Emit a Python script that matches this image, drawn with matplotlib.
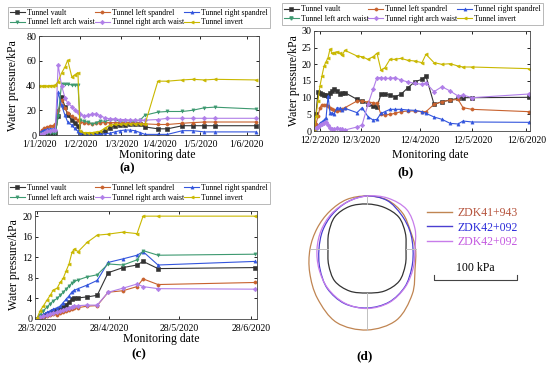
import numpy as np
import matplotlib
matplotlib.use("Agg")
import matplotlib.pyplot as plt
from matplotlib.path import Path
from matplotlib.patches import PathPatch

plt.rcParams["font.family"] = "Liberation Serif"

series_names = ["Tunnel vault", "Tunnel left spandrel", "Tunnel right spandrel",
                "Tunnel left arch waist", "Tunnel right arch waist", "Tunnel invert"]
colors = ["#333333", "#c8622e", "#3355dd", "#3d9970", "#b07ee8", "#c9b800"]
markers = ["s", "o", "^", "v", "D", "<"]

# ---- (a) days from 1/1/2020
days_a = [0, 2, 4, 6, 8, 10, 12, 14, 16.5, 19, 21, 24, 26, 28.5, 30, 33, 36, 39, 42, 45, 48,
          52, 55.5, 59, 63, 66.5, 70, 74, 77.5, 87, 94, 105, 112.5, 121, 128.5, 159]
vault_a = [1, 1, 1, 1, 1, 1, 1.5, 15, 31, 23, 16, 12, 9.5, 7, 2, 1, 1, 1, 1, 2, 3,
           6, 7.5, 8, 8, 8.5, 8.5, 8.5, 6.5, 5, 5, 7.5, 7.5, 7.5, 7.5, 7.5]
lspan_a = [1, 4, 5.5, 6.5, 7, 7.5, 8.5, 20, 28, 22, 18, 15, 13.5, 12, 10.5, 10, 9.5, 9, 9.5, 10, 10,
           10, 10, 10, 10, 10, 9.5, 9.5, 9, 8.5, 8.5, 9.5, 10, 10.5, 10.5, 10.5]
rspan_a = [2, 3, 4, 4.5, 5, 5, 5.5, 34.5, 24, 16, 10.5, 8, 5.5, 3, 1.5, 1, 0.5, 0.5, 0.5, 0.5, 1,
           1.5, 2.5, 3.5, 4, 4, 3.5, 2, 0.5, 0.5, 0.5, 3.5, 3.5, 2.5, 2.5, 2.5]
larch_a = [1, 1, 1.5, 1.5, 2, 2, 2, 15, 41, 41, 41, 40.5, 40.5, 40.5, 12, 11, 10.5, 9, 10, 11.5, 11,
           12, 12.5, 11, 11.5, 11.5, 11, 12, 16, 18.5, 19, 19, 20, 22, 22.5, 21]
rarch_a = [0.5, 1, 2, 3, 3.5, 4, 4, 56.5, 40, 30, 26, 23, 20.5, 18.5, 17, 15.5, 16, 17, 17, 15.5, 14,
           13, 13, 12.5, 12.5, 12, 12, 12, 12, 12.5, 13.5, 13.5, 13.5, 13.5, 13.5, 13.5]
invert_a = [40, 39.5, 40, 39.5, 40, 40, 40.5, 43, 50, 55, 60.5, 47, 48.5, 50.5, 3, 2, 2, 2, 2.5, 3, 5.5,
            8, 8.5, 8.5, 9, 9, 9, 9, 8.5, 43.5, 43.5, 44.5, 45, 44.5, 45, 44.5]
ticks_a = [0, 30, 60, 88, 118, 152]
ticklabels_a = ["1/1/2020", "1/2/2020", "1/3/2020", "1/4/2020", "1/5/2020", "1/6/2020"]

# ---- (b) days from 12/2/2020
days_b = [0, 1.1, 2.2, 3.3, 4.4, 5.6, 6.7, 7.8, 8.9, 10, 11.1, 12.8, 14.4, 15.6, 17.2, 23.9, 26.7, 30,
          32.8, 35, 37.2, 39.4, 42.2, 45, 48.3, 52.2, 56.1, 60, 62.2, 66.7, 71.1, 75.6, 80, 82.8, 87.8, 119.5]
vault_b = [0, 5, 11.7, 11.5, 11, 10.8, 10.7, 10.5, 11.5, 12, 12.5, 12, 11.2, 11.3, 11.5, 9.5, 9, 8,
           7.5, 7.3, 11, 11.2, 10.7, 10.3, 11, 13, 14.8, 15.5, 16.5, 8, 8.8, 9.3, 9.8, 10, 10, 10.1]
lspan_b = [0, 2, 4.5, 7, 7.8, 7.8, 7.7, 7.5, 7, 6.7, 6.3, 6, 6.3, 6.6, 7, 9, 9, 8.7,
           8.5, 8.3, 5, 4.8, 5, 5.3, 5.8, 6, 6, 5.8, 5.8, 8, 8.8, 9.2, 9.5, 7, 6.5, 5.8]
rspan_b = [0, 0.8, 1.5, 2.3, 2.8, 3.3, 4, 10.5, 5.5, 5.4, 5, 7, 6.8, 6.3, 6.8, 5.5, 7, 4.3,
           3.3, 3.5, 5.3, 5.8, 6.5, 6.5, 6.5, 6.3, 6.2, 5.8, 5.3, 4.2, 3.5, 2.3, 2.1, 3, 2.7, 2.6]
larch_b = []
rarch_b = [0, 1, 1.3, 1.8, 2.1, 2.5, 2.8, 1.8, 1, 0.5, 0.5, 0.8, 0.5, 0.5, 0.3, 1.2, 1.8, 8,
           12.5, 16, 16, 15.8, 15.8, 16, 15.3, 14.7, 14.3, 14, 14.4, 11.8, 13.3, 12, 10.5, 10.8, 10, 11.1]
invert_b = [0, 4.5, 9, 13.5, 16.5, 19.5, 20.8, 22, 24.6, 23.3, 23.5, 23.8, 23.3, 22.8, 24.2, 22.5, 22.3, 21.5,
            22.3, 23.3, 18.3, 19, 21.5, 21.5, 21.8, 21.2, 21, 20.5, 23, 20.5, 20, 20.2, 19.5, 19.2, 19.2, 18.7]
ticks_b = [3.3, 26, 59, 88, 118]
ticklabels_b = ["12/2/2020", "12/3/2020", "12/4/2020", "12/5/2020", "12/6/2020"]

# ---- (c) days from 28/3/2020
days_c = [0, 1.3, 2.6, 4.3, 5.6, 6.9, 8.6, 9.9, 11.2, 12.4, 13.7, 15, 16, 17.6, 21.5, 25.8,
          30.5, 36.9, 42.9, 45.5, 51.9, 93.6]
vault_c = [0, 0.3, 0.6, 0.9, 1.2, 1.5, 1.8, 2.0, 2.4, 2.8, 3.3, 3.8, 4.0, 4.1, 4.3, 4.6,
           9.0, 10.0, 10.5, 11.2, 9.8, 10.0]
lspan_c = [0, 0.2, 0.4, 0.6, 0.8, 0.9, 0.8, 1.1, 1.3, 1.6, 1.7, 2.0, 2.1, 2.2, 2.5, 2.6,
           5.2, 5.5, 6.3, 7.8, 6.7, 7.1]
rspan_c = [0, 0.5, 0.9, 1.3, 1.6, 1.9, 2.2, 2.5, 3.2, 3.8, 4.5, 5.3, 5.6, 5.9, 6.6, 7.5,
           11.0, 11.7, 12.4, 13.1, 10.5, 11.2]
larch_c = [0, 0.8, 1.6, 2.3, 3.0, 3.5, 4.0, 4.6, 5.2, 5.8, 6.4, 7.0, 7.3, 7.6, 8.2, 8.6,
           10.7, 10.5, 11.5, 13.3, 12.4, 12.6]
rarch_c = [0, 0.3, 0.5, 0.8, 1.0, 1.2, 1.4, 1.6, 1.8, 2.0, 2.2, 2.4, 2.5, 2.6, 2.7, 2.7,
           5.2, 6.0, 6.8, 6.3, 5.9, 5.8]
invert_c = [0.2, 1.6, 2.5, 3.7, 4.6, 5.6, 6.0, 7.1, 7.9, 9.3, 10.7, 13.0, 13.6, 13.1, 14.9, 16.3,
            16.5, 16.9, 16.6, 20.0, 20.0, 20.0]
ticks_c = [0, 31, 61, 92]
ticklabels_c = ["28/3/2020", "28/4/2020", "28/5/2020", "28/6/2020"]

# ---- (d) pressure envelopes around the lining, radius at 16 angles (drawing units)
angles_d = np.arange(0, 360, 22.5)
lining_r = [39, 41.5, 45, 45, 45, 46, 45.5, 41.5, 39, 41.5, 45.5, 45.5, 44, 45.5, 45.5, 41.5]
zdk41_943_r = [48.5, 47, 50.5, 53, 53, 53.5, 53, 54, 57, 62, 70, 79.5, 81, 77, 64, 52]
zdk42_092a_r = [46, 46.5, 48.5, 52.5, 53, 51, 49, 48, 48, 51, 56, 59, 59, 57.5, 53.5, 48.5]
zdk42_092b_r = [48, 52, 56, 55, 53, 51, 50, 49.5, 50, 52, 55.5, 58.5, 59.5, 58, 54, 50]
labels_d = ["ZDK41+943", "ZDK42+092", "ZDK42+092"]
line_colors_d = ["#c08552", "#4b3fd1", "#c77dea"]
text_colors_d = ["#b5533c", "#2b2bd9", "#c45ae0"]
scale_kpa = 100
scale_len = 83  # drawing units for 100 kPa

fig = plt.figure(figsize=(5.5, 3.66), dpi=100)
W, H = 550, 366


def px_axes(x0, y0, x1, y1):
    return fig.add_axes([x0 / W, 1 - y1 / H, (x1 - x0) / W, (y1 - y0) / H])


def line_panel(ax, x, ys, xticks, xticklabels, xlim, ylim, yticks, legbox):
    for y, c, m, name in zip(ys, colors, markers, series_names):
        if len(y):
            ax.plot(x, y, color=c, marker=m, ms=2.3, lw=0.8, mew=0.4, label=name)
        else:
            ax.plot([], [], color=c, marker=m, ms=2.3, lw=0.8, label=name)
    ax.set_xlim(*xlim)
    ax.set_ylim(*ylim)
    ax.set_yticks(yticks)
    ax.set_xticks(xticks)
    ax.set_xticklabels(xticklabels)
    ax.tick_params(direction="in", top=True, right=True, length=2.5, width=0.6,
                   labelsize=7.2, pad=2)
    ax.tick_params(axis="x", pad=3.5, labelsize=7)
    for s in ax.spines.values():
        s.set_linewidth(0.6)
        s.set_color("#444444")
    ax.set_xlabel("Monitoring date", fontsize=8.5)
    ax.set_ylabel("Water pressure/kPa", fontsize=8.5)
    h, l = ax.get_legend_handles_labels()
    order = [0, 3, 1, 4, 2, 5]
    x0, y0, x1, y1 = legbox
    leg = ax.legend([h[i] for i in order], [l[i] for i in order], ncol=3, mode="expand",
                    loc="center", bbox_to_anchor=(x0 / W, 1 - y1 / H, (x1 - x0) / W, (y1 - y0) / H),
                    bbox_transform=fig.transFigure, fontsize=5.6, frameon=True, fancybox=False,
                    edgecolor="#999999", handlelength=1.9, handletextpad=0.3,
                    borderpad=0.25, labelspacing=0.2, columnspacing=0.4, borderaxespad=0)
    leg.get_frame().set_linewidth(0.6)


ax_a = px_axes(39, 36, 259, 135)
line_panel(ax_a, days_a, [vault_a, lspan_a, rspan_a, larch_a, rarch_a, invert_a],
           ticks_a, ticklabels_a, (0, 161), (0, 80), [0, 20, 40, 60, 80], (8, 7, 270, 28))
ax_a.xaxis.set_label_coords(0.536, -0.14)
ax_a.yaxis.set_label_coords(-0.09, 0.5)

ax_b = px_axes(314, 31, 530, 131)
line_panel(ax_b, days_b, [vault_b, lspan_b, rspan_b, larch_b, rarch_b, invert_b],
           ticks_b, ticklabels_b, (0, 120), (0, 30), [0, 5, 10, 15, 20, 25, 30], (282, 3, 543, 25))
ax_b.xaxis.set_label_coords(0.537, -0.18)
ax_b.yaxis.set_label_coords(-0.065, 0.5)

ax_c = px_axes(35, 211, 257, 319)
line_panel(ax_c, days_c, [vault_c, lspan_c, rspan_c, larch_c, rarch_c, invert_c],
           ticks_c, ticklabels_c, (-0.9, 94.4), (0, 21), [0, 4, 8, 12, 16, 20], (8, 183, 270, 203))
ax_c.xaxis.set_label_coords(0.567, -0.13)
ax_c.yaxis.set_label_coords(-0.068, 0.5)

# ---- (d)
cx, cy = 367, 249
ax_d = px_axes(290, 185, 545, 345)
ax_d.set_xlim(290 - cx, 545 - cx)
ax_d.set_ylim(249 - 345, 249 - 185)
ax_d.axis("off")


def closed_curve(ax, ang, rad, **kw):
    t = np.radians(ang)
    r = np.asarray(rad, float)
    pts = np.column_stack([r * np.cos(t), r * np.sin(t)])
    n = len(pts)
    verts = [pts[0]]
    codes = [Path.MOVETO]
    for i in range(n):
        p0, p1, p2, p3 = pts[i - 1], pts[i], pts[(i + 1) % n], pts[(i + 2) % n]
        verts += [p1 + (p2 - p0) / 6, p2 - (p3 - p1) / 6, p2]
        codes += [Path.CURVE4] * 3
    ax.add_patch(PathPatch(Path(verts, codes), fill=False, **kw))


# radial guide lines at arch waists, vault and invert
outer = np.max([zdk41_943_r, zdk42_092a_r, zdk42_092b_r], axis=0)
for k in [0, 4, 8, 12]:
    t = np.radians(angles_d[k])
    ax_d.plot([lining_r[k] * np.cos(t), outer[k] * np.cos(t)],
              [lining_r[k] * np.sin(t), outer[k] * np.sin(t)], color="#c0c0c0", lw=0.7)

closed_curve(ax_d, angles_d, lining_r, edgecolor="#333333", lw=0.9)
for rad, c in zip([zdk41_943_r, zdk42_092a_r, zdk42_092b_r], line_colors_d):
    closed_curve(ax_d, angles_d, rad, edgecolor=c, lw=0.9)

handles_d = [ax_d.plot([], [], color=c, lw=1.0)[0] for c in line_colors_d]
ax_d.legend(handles_d, labels_d, loc="upper left", bbox_to_anchor=(427 / W, 1 - 207 / H),
            bbox_transform=fig.transFigure, frameon=False, fontsize=8.5, labelcolor=text_colors_d,
            handlelength=2.1, handletextpad=0.5, labelspacing=0.22, borderpad=0, borderaxespad=0)

sx0, sy = 434 - cx, 249 - 280
ax_d.plot([sx0, sx0, sx0 + scale_len, sx0 + scale_len], [sy + 5, sy, sy, sy + 5],
          color="#444444", lw=0.8)
ax_d.text(sx0 + scale_len / 2, sy + 6, f"{scale_kpa} kPa", ha="center", va="bottom", fontsize=8.5)

for lab, x, y in [("(a)", 127, 168), ("(b)", 405, 172), ("(c)", 139, 354), ("(d)", 365, 356)]:
    fig.text(x / W, 1 - y / H, lab, ha="center", va="center", fontsize=9.5, fontweight="bold")

fig.savefig("out.png", dpi=100)
